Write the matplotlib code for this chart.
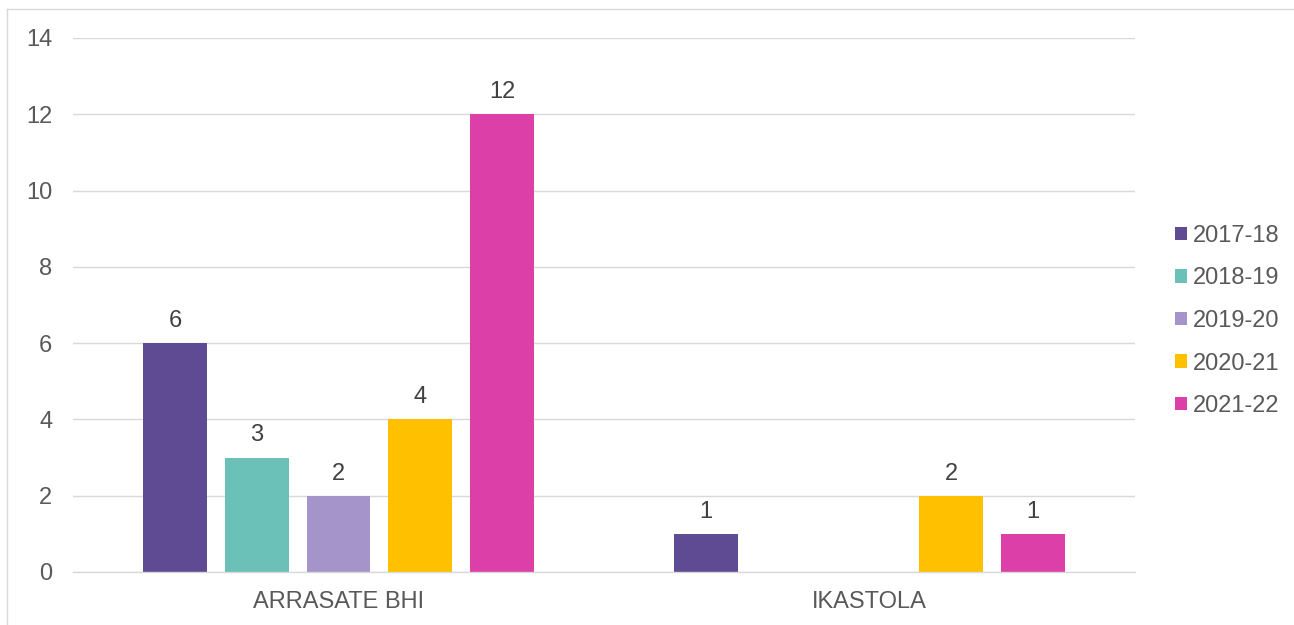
import numpy as np
import matplotlib
matplotlib.use("Agg")
from matplotlib import pyplot as plt
from matplotlib.lines import Line2D

categories = ['ARRASATE BHI', 'IKASTOLA']
seasons = ['2017-18', '2018-19', '2019-20', '2020-21', '2021-22']
values = {
    '2017-18': [6, 1],
    '2018-19': [3, 0],
    '2019-20': [2, 0],
    '2020-21': [4, 2],
    '2021-22': [12, 1],
}
colors = ['#5F4B94', '#6BC0B8', '#A594C9', '#FFC000', '#DC3FA8']
yticks = [0, 2, 4, 6, 8, 10, 12, 14]

plt.rcParams['font.family'] = ['Liberation Sans', 'DejaVu Sans']
fs = 17

fig = plt.figure(figsize=(12.94, 6.25), dpi=100)
ax = fig.add_axes([73 / 1294, 1 - 572 / 625, (1135 - 73) / 1294, (572 - 38) / 625])

x = np.arange(len(categories))
pitch = 0.154
width = 0.1205
for i, s in enumerate(seasons):
    offs = (i - 2) * pitch
    vals = values[s]
    bars = ax.bar(x + offs, vals, width, color=colors[i], label=s, zorder=3)
    for b, v in zip(bars, vals):
        if v == 0:
            continue
        ax.annotate(str(v), (b.get_x() + b.get_width() / 2, v),
                    xytext=(0, 8), textcoords='offset points',
                    ha='center', va='bottom', fontsize=fs, color='#404040')

ax.set_xlim(-0.5, 1.5)
ax.set_ylim(0, 14)
ax.set_yticks(yticks)
ax.set_xticks(x)
ax.set_xticklabels(categories)
ax.tick_params(axis='y', length=0, pad=15, labelsize=fs, labelcolor='#595959')
ax.tick_params(axis='x', length=0, pad=14, labelsize=fs, labelcolor='#595959')
ax.grid(axis='y', color='#D9D9D9', linewidth=1, zorder=0)
for sp in ['top', 'right', 'left']:
    ax.spines[sp].set_visible(False)
ax.spines['bottom'].set_color('#D9D9D9')
ax.spines['bottom'].set_linewidth(1)
ax.spines['bottom'].set_zorder(4)

leg = fig.legend(loc='center left', bbox_to_anchor=(1175 / 1294, 1 - 321 / 625),
                 frameon=False, fontsize=fs, handlelength=0.5, handleheight=0.5,
                 handletextpad=0.25, labelspacing=0.87, borderpad=0, borderaxespad=0)
for t in leg.get_texts():
    t.set_color('#595959')

# outer chart border (top and left visible)
fig.add_artist(Line2D([7 / 1294, 7 / 1294], [0, 1 - 9 / 625], color='#D9D9D9', lw=1, transform=fig.transFigure))
fig.add_artist(Line2D([7 / 1294, 1], [1 - 9 / 625, 1 - 9 / 625], color='#D9D9D9', lw=1, transform=fig.transFigure))

fig.savefig('out.png', dpi=100)
